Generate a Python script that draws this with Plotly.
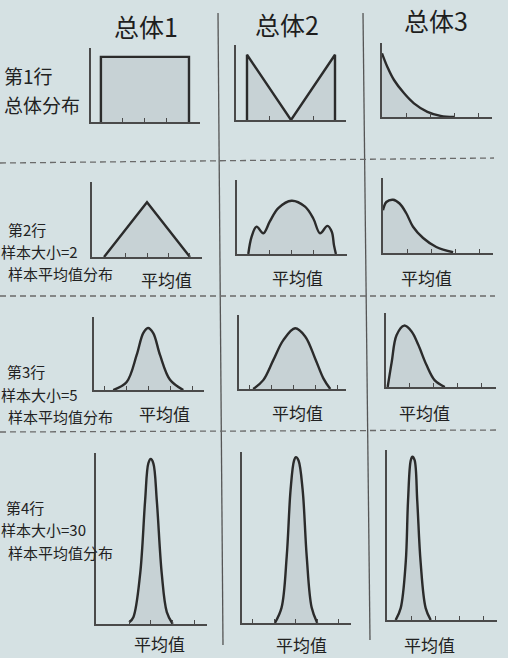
import plotly.graph_objects as go

W, H = 508, 658
BG = '#d5e1e3'
INK = '#2b2b2b'
AXIS = '#4a4a4a'
FILL = 'rgba(110,118,122,0.13)'
FONT = 'Noto Sans CJK SC'

# ---------------- text ----------------
col_titles = ['总体1', '总体2', '总体3']
row_labels = [
    ['第1行', '总体分布'],
    ['第2行', '样本大小=2', '样本平均值分布'],
    ['第3行', '样本大小=5', '样本平均值分布'],
    ['第4行', '样本大小=30', '样本平均值分布'],
]
axis_label = '平均值'

# ---------------- data (x in tick units, y as share of axis height) ----------------
# Row 1: population distributions
r1c1_x = [0, 0, 4, 4]
r1c1_y = [0, 0.88, 0.88, 0]
r1c1_ticks = [1, 2, 3]

r1c2_x = [0, 0, 2, 4, 4]
r1c2_y = [0, 0.87, 0, 0.87, 0]
r1c2_ticks = [1, 3]

r1c3_x = [0, 0.22, 0.5, 0.92, 1.33, 1.89, 2.44, 3.0]
r1c3_y = [0.86, 0.68, 0.5, 0.32, 0.185, 0.07, 0.015, 0]
r1c3_ticks = [1, 2, 3, 4]

# Row 2: sample size 2
r2c1_x = [0, 2, 4]
r2c1_y = [0, 0.73, 0]
r2c1_ticks = [1, 2, 3, 4]

r2c2_x = [0.02, 0.17, 0.4, 0.71, 1.01, 1.4, 2.01, 2.63, 3.01, 3.32, 3.66, 3.86, 3.96, 4.05]
r2c2_y = [0, 0.23, 0.37, 0.28, 0.44, 0.62, 0.72, 0.64, 0.48, 0.28, 0.38, 0.3, 0.12, 0]
r2c2_ticks = [1, 2, 3]

r2c3_x = [0, 0.14, 0.42, 0.69, 0.97, 1.25, 1.67, 2.22, 2.92]
r2c3_y = [0.57, 0.68, 0.71, 0.66, 0.53, 0.35, 0.2, 0.08, 0.01]
r2c3_ticks = [1, 2, 3, 4]

# Row 3: sample size 5
r3c1_x = [0.38, 1.0, 1.46, 1.76, 1.98, 2.22, 2.53, 2.99, 3.6]
r3c1_y = [0, 0.11, 0.48, 0.78, 0.85, 0.78, 0.48, 0.14, 0]
r3c1_ticks = [0, 1, 2, 3, 4]

r3c2_x = [0.15, 0.61, 1.07, 1.53, 2.07, 2.53, 2.99, 3.37, 3.68]
r3c2_y = [0, 0.12, 0.39, 0.66, 0.82, 0.71, 0.41, 0.14, 0]
r3c2_ticks = [0, 1, 2, 3, 4]

r3c3_x = [0.07, 0.24, 0.44, 0.76, 1.07, 1.35, 1.69, 2.04, 2.46]
r3c3_y = [0, 0.34, 0.7, 0.83, 0.75, 0.57, 0.3, 0.09, 0]
r3c3_ticks = [1, 2, 3, 4]

# Row 4: sample size 30
r4c1_x = [1.01, 1.2, 1.51, 1.74, 1.89, 2.0, 2.12, 2.28, 2.51, 2.74, 3.01]
r4c1_y = [0.01, 0.04, 0.29, 0.72, 0.94, 0.965, 0.94, 0.72, 0.29, 0.07, 0]
r4c1_ticks = [1, 2, 3, 4]

r4c2_x = [1.02, 1.33, 1.57, 1.75, 1.91, 2.0, 2.12, 2.31, 2.5, 2.73, 2.99]
r4c2_y = [0, 0.09, 0.39, 0.78, 0.95, 0.97, 0.95, 0.78, 0.39, 0.09, 0]
r4c2_ticks = [0, 1, 2, 3, 4]

r4c3_x = [0.36, 0.57, 0.78, 0.875, 0.99, 1.06, 1.15, 1.26, 1.4, 1.61, 1.82]
r4c3_y = [0, 0.07, 0.34, 0.7, 0.94, 0.96, 0.94, 0.7, 0.34, 0.07, 0]
r4c3_ticks = [1, 2, 3, 4]

# ---------------- panel layout (pixels: left, right, top, bottom; x range) ----------------
panels = [
    (r1c1_x, r1c1_y, 'linear', r1c1_ticks, (91, 200, 48, 122), (-0.45, 4.5)),
    (r1c2_x, r1c2_y, 'linear', r1c2_ticks, (236, 346, 45, 120), (-0.5, 4.5)),
    (r1c3_x, r1c3_y, 'spline', r1c3_ticks, (382, 492, 43, 117), (0, 4.58)),
    (r2c1_x, r2c1_y, 'linear', r2c1_ticks, (92, 202, 182, 257), (-0.56, 4.56)),
    (r2c2_x, r2c2_y, 'spline', r2c2_ticks, (237, 347, 180, 254), (-0.5, 4.56)),
    (r2c3_x, r2c3_y, 'spline', r2c3_ticks, (383, 493, 178, 253), (0, 4.58)),
    (r3c1_x, r3c1_y, 'spline', r3c1_ticks, (94, 204, 317, 390), (-0.5, 4.55)),
    (r3c2_x, r3c2_y, 'spline', r3c2_ticks, (239, 346, 315, 389), (-0.5, 4.4)),
    (r3c3_x, r3c3_y, 'spline', r3c3_ticks, (386, 496, 313, 387), (0, 4.6)),
    (r4c1_x, r4c1_y, 'spline', r4c1_ticks, (96, 207, 453, 624), (-0.52, 4.59)),
    (r4c2_x, r4c2_y, 'spline', r4c2_ticks, (242, 351, 452, 623), (-0.51, 4.56)),
    (r4c3_x, r4c3_y, 'spline', r4c3_ticks, (387, 497, 450, 620), (0, 4.58)),
]


def px(x):
    return x / W


def py(y):
    return 1 - y / H


fig = go.Figure()
layout = dict(
    width=W, height=H,
    margin=dict(l=0, r=0, t=0, b=0),
    paper_bgcolor=BG, plot_bgcolor='rgba(0,0,0,0)',
    showlegend=False,
    font=dict(family=FONT, color=INK),
)

for i, (xs, ys, shape, ticks, box, xr) in enumerate(panels, start=1):
    sfx = '' if i == 1 else str(i)
    l, r, t, b = box
    fig.add_trace(go.Scatter(
        x=xs, y=ys, mode='lines', line=dict(color=INK, width=2.4, shape=shape, smoothing=1.0),
        fill='tozeroy', fillcolor=FILL, xaxis='x' + sfx, yaxis='y' + sfx, hoverinfo='skip',
    ))
    layout['xaxis' + sfx] = dict(
        domain=[px(l), px(r)], range=list(xr), anchor='y' + sfx,
        showline=True, linecolor=AXIS, linewidth=1.5,
        showgrid=False, zeroline=False, showticklabels=False,
        tickmode='array', tickvals=ticks, ticks='inside', ticklen=4,
        tickwidth=1.4, tickcolor=AXIS, fixedrange=True,
    )
    layout['yaxis' + sfx] = dict(
        domain=[py(b), py(t)], range=[0, 1], anchor='x' + sfx,
        showline=True, linecolor=AXIS, linewidth=1.5,
        showgrid=False, zeroline=False, showticklabels=False, ticks='',
        fixedrange=True,
    )

fig.update_layout(**layout)

# ---------------- divider lines ----------------
shapes = [
    dict(type='line', xref='paper', yref='paper', x0=px(218), y0=py(13), x1=px(223), y1=py(645),
         line=dict(color='#555', width=1.3)),
    dict(type='line', xref='paper', yref='paper', x0=px(363), y0=py(13), x1=px(370), y1=py(640),
         line=dict(color='#555', width=1.3)),
]
for y0, y1, xe in [(163, 158, 494), (296, 296, 495), (432, 430, 497)]:
    shapes.append(dict(type='line', xref='paper', yref='paper', x0=0, y0=py(y0), x1=px(xe), y1=py(y1),
                       line=dict(color='#6a6a6a', width=1.3, dash='6px,4px')))
fig.update_layout(shapes=shapes)

# ---------------- text ----------------
ann = []
for name, cx, cy in zip(col_titles, [146, 287, 436], [26, 24, 20]):
    ann.append(dict(text=name, x=px(cx), y=py(cy), xref='paper', yref='paper', showarrow=False,
                    xanchor='center', yanchor='middle', font=dict(size=25, color='#1e1e1e', family=FONT)))

# row labels: (left x, centre y) of each line, and font size per row
row_pos = [
    ([(3, 75), (3, 105)], 19),
    ([(7, 229), (0, 251), (7, 273.5)], 15),
    ([(6, 371.5), (0, 394), (7, 416.5)], 15),
    ([(5, 507), (0, 529.5), (7, 552)], 15),
]
for labels, (pos, size) in zip(row_labels, row_pos):
    for txt, (lx, ly) in zip(labels, pos):
        ann.append(dict(text=txt, x=px(lx), y=py(ly), xref='paper', yref='paper', showarrow=False,
                        xanchor='left', yanchor='middle', borderpad=0,
                        font=dict(size=size, color='#222', family=FONT)))

for cx, cy in [(166, 280), (297, 277), (426, 277),
               (164, 413), (297, 412), (424, 412),
               (159, 643), (301, 644), (429, 644)]:
    ann.append(dict(text=axis_label, x=px(cx), y=py(cy), xref='paper', yref='paper', showarrow=False,
                    xanchor='center', yanchor='middle', font=dict(size=17, color='#222', family=FONT)))

fig.update_layout(annotations=ann)
fig.write_html('out.html')
